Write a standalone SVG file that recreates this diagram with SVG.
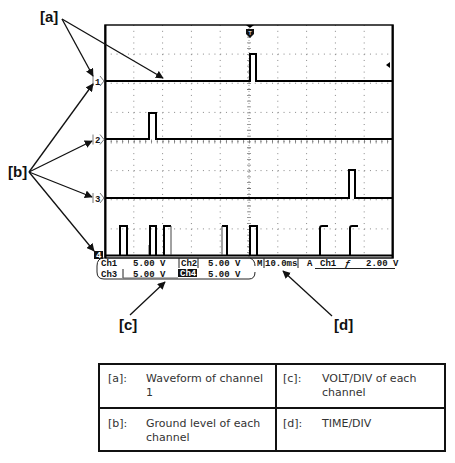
<svg xmlns="http://www.w3.org/2000/svg" width="455" height="463" viewBox="0 0 455 463">
<style>
.grid{stroke:#888;stroke-width:1;fill:none}
.gh{stroke-dasharray:1 4.76}
.gv{stroke-dasharray:1 4.825}
.trace{fill:none;stroke:#000;stroke-width:2;stroke-linejoin:miter}
.edge{fill:none;stroke:#444;stroke-width:1}
.lbl{font-family:"Liberation Sans",Arial,sans-serif;font-size:15px;font-weight:bold;fill:#111}
.scr{font-family:"Liberation Mono","DejaVu Sans Mono",monospace;font-size:9px;font-weight:bold;fill:#111}
.tbl{font-family:"DejaVu Sans",Verdana,sans-serif;font-size:11px;fill:#333}
.arr{stroke:#111;stroke-width:1.3;fill:none;marker-end:url(#ah)}
.mk{fill:none;stroke:#555;stroke-width:0.8}
</style>
<defs>
<marker id="ah" viewBox="0 0 10 10" refX="9" refY="5" markerWidth="8" markerHeight="8" markerUnits="userSpaceOnUse" orient="auto">
<path d="M0,0 L10,5 L0,10 Z" fill="#111"/>
</marker>
</defs>
<rect width="455" height="463" fill="#fff"/>

<g id="screen">
<g class="grid gh">
<line x1="105" y1="54.1" x2="393" y2="54.1"/>
<line x1="105" y1="83.25" x2="393" y2="83.25"/>
<line x1="105" y1="112.4" x2="393" y2="112.4"/>
<line x1="105" y1="141.5" x2="393" y2="141.5"/>
<line x1="105" y1="170.6" x2="393" y2="170.6"/>
<line x1="105" y1="199.75" x2="393" y2="199.75"/>
<line x1="105" y1="228.9" x2="393" y2="228.9"/>
</g>
<g class="grid gv">
<line x1="133.8" y1="25" x2="133.8" y2="258"/>
<line x1="162.6" y1="25" x2="162.6" y2="258"/>
<line x1="191.4" y1="25" x2="191.4" y2="258"/>
<line x1="220.2" y1="25" x2="220.2" y2="258"/>
<line x1="277.8" y1="25" x2="277.8" y2="258"/>
<line x1="306.6" y1="25" x2="306.6" y2="258"/>
<line x1="335.4" y1="25" x2="335.4" y2="258"/>
<line x1="364.2" y1="25" x2="364.2" y2="258"/>
</g>
<line x1="249" y1="25" x2="249" y2="258" stroke="#777" stroke-width="4" stroke-dasharray="0.8 5.025"/>
<line x1="249" y1="25" x2="249" y2="258" stroke="#999" stroke-width="1" stroke-dasharray="1 2"/>
<line x1="105" y1="141.5" x2="393" y2="141.5" stroke="#777" stroke-width="4" stroke-dasharray="0.8 4.96"/>
<rect x="105" y="25" width="288" height="233" fill="none" stroke="#111" stroke-width="1.5"/>
<line x1="105.5" y1="25" x2="105.5" y2="258" stroke="#000" stroke-width="2"/>
<line x1="392.5" y1="25" x2="392.5" y2="258" stroke="#000" stroke-width="2"/>
</g>

<g id="trigger-mark">
<path d="M246,25 H254 L250,28 Z" fill="#000"/>
<path d="M246,29 H254 V34 L250,38 L246,34 Z" fill="#111"/>
<text x="250" y="35" font-family="Liberation Sans,Arial,sans-serif" font-size="6" fill="#fff" text-anchor="middle">T</text>
<path d="M386,65 L390,62 L390,68 Z" fill="#000"/>
</g>

<g id="traces">
<path class="trace" d="M105,81 H250 V54 H256 V81 H393"/>
<path class="trace" d="M105,139 H149 V113 H156 V139 H393"/>
<path class="trace" d="M105,198 H349 V170 H355 V198 H393"/>
<path class="trace" stroke-width="2.5" d="M105,255.5 H393"/>
<path class="trace" stroke-width="1.5" d="M120,255 V226 H127 V255"/>
<path class="edge" d="M149,255 V245"/>
<path class="trace" stroke-width="1.5" d="M150,255 V226 H156 V255"/>
<path class="trace" stroke-width="1.5" d="M164,255 V226 H171"/>
<path class="edge" d="M171,226 V255"/>
<path class="trace" stroke-width="1.5" d="M222,226 H227 V255"/>
<path class="edge" d="M222,226 V255"/>
<path class="trace" stroke-width="1.5" d="M250,255 V226 H257 V255"/>
<path class="trace" stroke-width="1.5" d="M320,255 V228 Q320,226 322,226 H328"/>
<path class="trace" stroke-width="1.5" d="M350,255 V228 Q350,226 352,226 H358"/>
</g>

<g id="ch-markers">
<path class="mk" d="M93,76 V86 M100,76 L104,81 L100,86"/>
<text class="scr" x="95" y="84.5">1</text>
<path class="mk" d="M93,134.5 V144.5 M100,134.5 L104,139.5 L100,144.5"/>
<text class="scr" x="95" y="143">2</text>
<path class="mk" d="M93,193 V203 M100,193 L104,198 L100,203"/>
<text class="scr" x="95" y="201.5">3</text>
<rect x="94" y="251" width="9" height="8" fill="#111"/>
<text class="scr" x="96" y="258" style="fill:#fff">4</text>
</g>

<g id="readout">
<path d="M104,258 Q97,258 97,266 V272 Q97,279 104,279 H249 Q255,279 255,272" fill="none" stroke="#222" stroke-width="1"/>
<path d="M250,258 Q255,260 255,266" fill="none" stroke="#222" stroke-width="1"/>
<line x1="179" y1="258" x2="179" y2="268" stroke="#222" stroke-width="1"/>
<line x1="198" y1="258" x2="198" y2="268" stroke="#222" stroke-width="1"/>
<line x1="123" y1="269" x2="123" y2="278" stroke="#222" stroke-width="1"/>
<line x1="123" y1="278" x2="178" y2="278" stroke="#666" stroke-width="1"/>
<text class="scr" x="101" y="266">Ch1</text>
<text class="scr" x="133" y="266">5.00 V</text>
<text class="scr" x="181" y="266">Ch2</text>
<text class="scr" x="208" y="266">5.00 V</text>
<text class="scr" x="101" y="276.5">Ch3</text>
<text class="scr" x="133" y="276.5">5.00 V</text>
<rect x="178" y="269" width="19" height="8" fill="#111"/>
<text class="scr" x="180" y="276" style="fill:#fff">Ch4</text>
<text class="scr" x="208" y="276.5">5.00 V</text>
<text class="scr" x="257" y="266">M</text>
<line x1="264" y1="258" x2="264" y2="268" stroke="#222" stroke-width="1"/>
<text class="scr" x="265" y="266">10.0ms</text>
<line x1="298" y1="258" x2="298" y2="268" stroke="#222" stroke-width="1"/>
<text class="scr" x="307" y="266">A</text>
<text class="scr" x="320" y="266">Ch1</text>
<text class="scr" x="345" y="266" font-style="italic">ƒ</text>
<text class="scr" x="366" y="266">2.00 V</text>
<line x1="315" y1="268.5" x2="395" y2="268.5" stroke="#222" stroke-width="1"/>
</g>

<g id="label-a"><text class="lbl" x="40" y="22">[a]</text></g>
<g id="label-b"><text class="lbl" x="8" y="177">[b]</text></g>
<g id="label-c"><text class="lbl" x="119" y="330">[c]</text></g>
<g id="label-d"><text class="lbl" x="334" y="330">[d]</text></g>

<g id="connectors">
<line class="arr" x1="62" y1="19" x2="93" y2="76"/>
<line class="arr" x1="62" y1="19" x2="163" y2="78"/>
<line class="arr" x1="29" y1="172" x2="93" y2="84"/>
<line class="arr" x1="29" y1="172" x2="92" y2="141"/>
<line class="arr" x1="29" y1="172" x2="92" y2="197"/>
<line class="arr" x1="29" y1="172" x2="94" y2="251"/>
<line class="arr" x1="130" y1="315" x2="165" y2="282"/>
<line class="arr" x1="332" y1="316" x2="283" y2="271"/>
</g>

<g id="legend">
<rect x="99" y="364" width="346" height="87" fill="none" stroke="#111" stroke-width="2"/>
<line x1="99" y1="408" x2="445" y2="408" stroke="#111" stroke-width="2"/>
<line x1="276" y1="364" x2="276" y2="451" stroke="#111" stroke-width="2"/>
<text class="tbl" x="108" y="382">[a]:</text>
<text class="tbl" x="146" y="382">Waveform of channel</text>
<text class="tbl" x="146" y="396">1</text>
<text class="tbl" x="283" y="382">[c]:</text>
<text class="tbl" x="322" y="382">VOLT/DIV of each</text>
<text class="tbl" x="322" y="396">channel</text>
<text class="tbl" x="108" y="427">[b]:</text>
<text class="tbl" x="146" y="427">Ground level of each</text>
<text class="tbl" x="146" y="441">channel</text>
<text class="tbl" x="283" y="427">[d]:</text>
<text class="tbl" x="322" y="427">TIME/DIV</text>
</g>
</svg>
